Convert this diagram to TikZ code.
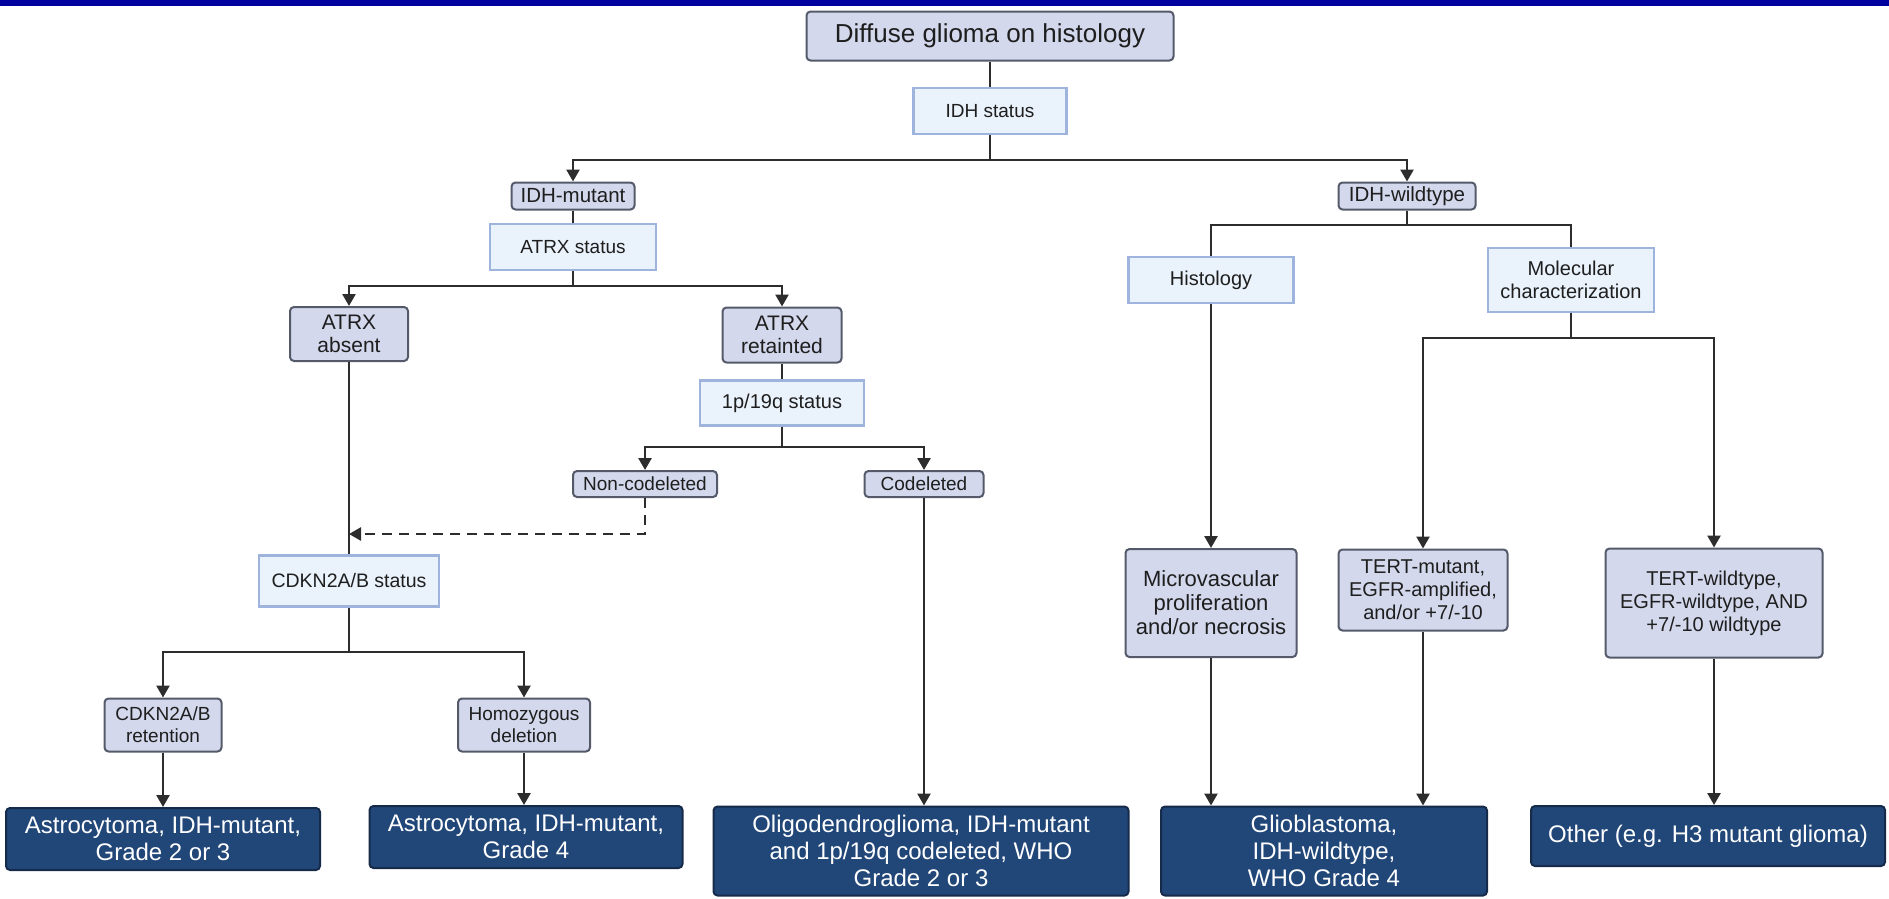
\documentclass[tikz,border=0pt]{standalone}
\usepackage{fontspec}
\setmainfont{Liberation Sans}
\usetikzlibrary{arrows.meta}

\definecolor{band}{RGB}{0,0,160}
\definecolor{decfill}{RGB}{211,216,236}
\definecolor{decedge}{RGB}{84,90,106}
\definecolor{statfill}{RGB}{234,242,252}
\definecolor{statedge}{RGB}{158,180,220}
\definecolor{outfill}{RGB}{33,70,120}
\definecolor{outedge}{RGB}{22,42,74}
\definecolor{wire}{RGB}{45,45,45}
\definecolor{ink}{RGB}{30,30,30}

\tikzset{
  decbox/.style={draw=decedge, fill=decfill, line width=2pt, rounded corners=4pt,
    inner sep=0pt, align=center, text=ink},
  statbox/.style={draw=statedge, fill=statfill, line width=2.5pt,
    inner sep=0pt, align=center, text=ink},
  outbox/.style={draw=outedge, fill=outfill, line width=2pt, rounded corners=4pt,
    inner sep=0pt, align=center, text=white},
  link/.style={draw=wire, line width=2.6pt},
  arr/.style={link, -{Triangle[length=12pt,width=13pt]}},
  fs/.style={font=\fontsize{#1}{#1*1.15}\selectfont},
}

\begin{document}
\begin{tikzpicture}[x=1pt,y=-1pt]
\useasboundingbox (0,0) rectangle (1889,898);
\fill[band] (0,0) rectangle (1889,6);

% top of the tree
\node[decbox, font=\fontsize{26}{30}\selectfont, minimum width=367, minimum height=49] (diff) at (990,36) {Diffuse glioma on histology};
\node[statbox, font=\fontsize{19}{23}\selectfont, minimum width=153, minimum height=46] (idh) at (990,111) {IDH status};
\node[decbox, font=\fontsize{20.5}{23}\selectfont, minimum width=123, minimum height=27] (mut) at (573,196) {IDH-mutant};
\node[decbox, font=\fontsize{20.5}{23}\selectfont, minimum width=137, minimum height=27] (wt) at (1407,196) {IDH-wildtype};

% IDH-mutant branch
\node[statbox, font=\fontsize{19}{23}\selectfont, minimum width=166, minimum height=46] (atrx) at (573,247) {ATRX status};
\node[decbox, font=\fontsize{21}{23}\selectfont, minimum width=118, minimum height=54] (absent) at (349,334) {ATRX\\absent};
\node[decbox, font=\fontsize{21}{23}\selectfont, minimum width=119, minimum height=55] (retain) at (782,335) {ATRX\\retainted};
\node[statbox, font=\fontsize{20}{23}\selectfont, minimum width=164, minimum height=45] (pq) at (782,403) {1p/19q status};
\node[decbox, font=\fontsize{19}{23}\selectfont, minimum width=144, minimum height=26] (noncod) at (645,484) {Non-codeleted};
\node[decbox, font=\fontsize{19}{23}\selectfont, minimum width=119, minimum height=26] (cod) at (924,484) {Codeleted};
\node[statbox, font=\fontsize{19.5}{23}\selectfont, minimum width=180, minimum height=51] (cdkn) at (349,581) {CDKN2A/B status};
\node[decbox, font=\fontsize{19}{22}\selectfont, minimum width=117, minimum height=53] (ret) at (163,725) {CDKN2A/B\\retention};
\node[decbox, font=\fontsize{19}{22}\selectfont, minimum width=132, minimum height=53] (homo) at (524,725) {Homozygous\\deletion};

% IDH-wildtype branch
\node[statbox, font=\fontsize{20}{23}\selectfont, minimum width=165, minimum height=46] (hist) at (1211,280) {Histology};
\node[statbox, font=\fontsize{20}{23}\selectfont, minimum width=166, minimum height=64] (molec) at (1571,280) {Molecular\\characterization};
\node[decbox, font=\fontsize{22}{24}\selectfont, minimum width=171, minimum height=108] (micro) at (1211,603) {Microvascular\\proliferation\\and/or necrosis};
\node[decbox, font=\fontsize{20}{23}\selectfont, minimum width=169, minimum height=81] (tmut) at (1423,590) {TERT-mutant,\\EGFR-amplified,\\and/or +7/-10};
\node[decbox, font=\fontsize{20}{23}\selectfont, minimum width=217, minimum height=109] (twt) at (1714,603) {TERT-wildtype,\\EGFR-wildtype, AND\\+7/-10 wildtype};

% final diagnoses
\node[outbox, font=\fontsize{24}{27}\selectfont, minimum width=314, minimum height=62] (astroA) at (163,839) {Astrocytoma, IDH-mutant,\\Grade 2 or 3};
\node[outbox, font=\fontsize{24}{27}\selectfont, minimum width=313, minimum height=62] (astroB) at (526,837) {Astrocytoma, IDH-mutant,\\Grade 4};
\node[outbox, font=\fontsize{24}{27}\selectfont, minimum width=415, minimum height=89] (oligo) at (921,851) {Oligodendroglioma, IDH-mutant\\and 1p/19q codeleted, WHO\\Grade 2 or 3};
\node[outbox, font=\fontsize{24}{27}\selectfont, minimum width=326, minimum height=89] (glio) at (1324,851) {Glioblastoma,\\IDH-wildtype,\\WHO Grade 4};
\node[outbox, font=\fontsize{24}{27}\selectfont, minimum width=354, minimum height=60] (other) at (1708,836) {Other (e.g. H3 mutant glioma)};

% junction points of the branching lines
\coordinate (j1) at (990,160);
\coordinate (j2) at (573,286);
\coordinate (j3) at (782,447);
\coordinate (j4) at (349,652);
\coordinate (j5) at (1407,225);
\coordinate (j6) at (1571,338);
\coordinate (dj) at (349,534);

% connectors
\draw[link] (diff.south) -- (idh.north);
\draw[link] (idh.south) -- (j1);
\draw[arr] (j1) -| (mut.north);
\draw[arr] (j1) -| (wt.north);

\draw[link] (mut.south) -- (atrx.north);
\draw[link] (atrx.south) -- (j2);
\draw[arr] (j2) -| (absent.north);
\draw[arr] (j2) -| (retain.north);

\draw[link] (retain.south) -- (pq.north);
\draw[link] (pq.south) -- (j3);
\draw[arr] (j3) -| (noncod.north);
\draw[arr] (j3) -| (cod.north);

\draw[link] (absent.south) -- (cdkn.north);
\draw[arr, dash pattern=on 10pt off 7pt] (noncod.south) |- (dj);

\draw[link] (cdkn.south) -- (j4);
\draw[arr] (j4) -| (ret.north);
\draw[arr] (j4) -| (homo.north);
\draw[arr] (ret.south) -- (astroA.north);
\draw[arr] (homo.south) -- (homo.south |- astroB.north);
\draw[arr] (cod.south) -- (cod.south |- oligo.north);

\draw[link] (wt.south) -- (j5);
\draw[link] (j5) -| (hist.north);
\draw[link] (j5) -| (molec.north);
\draw[arr] (hist.south) -- (micro.north);
\draw[link] (molec.south) -- (j6);
\draw[arr] (j6) -| (tmut.north);
\draw[arr] (j6) -| (twt.north);

\draw[arr] (micro.south) -- (micro.south |- glio.north);
\draw[arr] (tmut.south) -- (tmut.south |- glio.north);
\draw[arr] (twt.south) -- (twt.south |- other.north);
\end{tikzpicture}
\end{document}
